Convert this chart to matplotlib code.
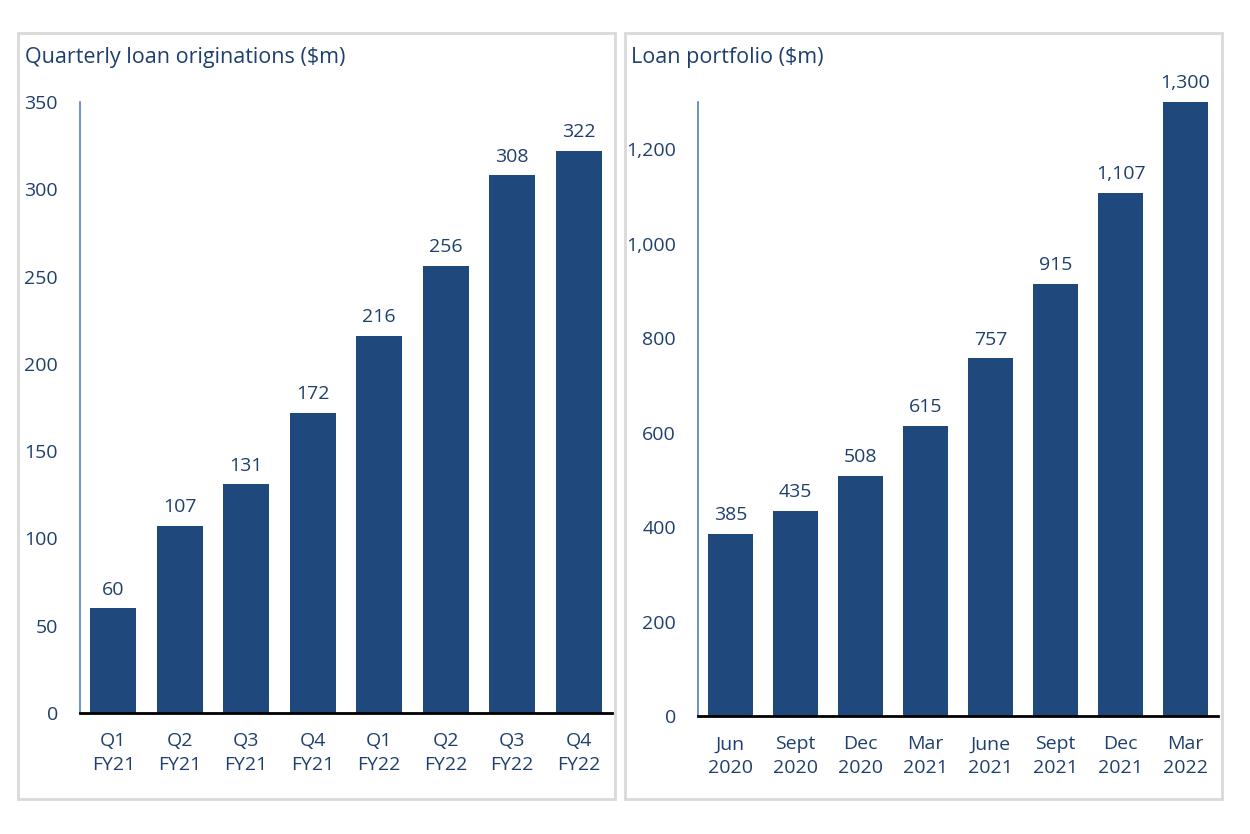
import matplotlib.pyplot as plt
from matplotlib.patches import Rectangle

## data
quarters = ['Q1\nFY21', 'Q2\nFY21', 'Q3\nFY21', 'Q4\nFY21',
            'Q1\nFY22', 'Q2\nFY22', 'Q3\nFY22', 'Q4\nFY22']
originations = [60, 107, 131, 172, 216, 256, 308, 322]

periods = ['Jun\n2020', 'Sept\n2020', 'Dec\n2020', 'Mar\n2021',
           'June\n2021', 'Sept\n2021', 'Dec\n2021', 'Mar\n2022']
portfolio = [385, 435, 508, 615, 757, 915, 1107, 1300]

navy = '#1f497d'
txt = '#1f3f6e'
plt.rcParams['font.family'] = ['Open Sans', 'DejaVu Sans']

W, H = 1250, 834
fig = plt.figure(figsize=(12.5, 8.34), dpi=100)

# panel frames (pixel coords -> figure fraction)
def frac_rect(x0, y0, x1, y1):
    return (x0 / W, 1 - y1 / H, (x1 - x0) / W, (y1 - y0) / H)

for x0, x1 in [(18, 615), (625, 1222)]:
    l, b, w, h = frac_rect(x0, 33, x1, 799)
    fig.patches.append(Rectangle((l, b), w, h, transform=fig.transFigure,
                                 fill=False, edgecolor='#d9d9d9', linewidth=2))

ax1 = fig.add_axes(frac_rect(80, 102, 612, 713))
ax2 = fig.add_axes(frac_rect(698, 102, 1218, 716))


def draw(ax, cats, vals, ymax, ticks, fmt):
    x = range(len(cats))
    bars = ax.bar(x, vals, width=0.69, color=navy, zorder=2)
    for rect, v in zip(bars, vals):
        ax.annotate(fmt(v), (rect.get_x() + rect.get_width() / 2, v),
                    xytext=(0, 7), textcoords='offset points',
                    ha='center', va='bottom', fontsize=14, color=txt)
    ax.set_xlim(-0.5, len(cats) - 0.5)
    ax.set_ylim(0, ymax)
    ax.set_yticks(ticks)
    ax.set_yticklabels([fmt(t) for t in ticks])
    ax.set_xticks(list(x))
    ax.set_xticklabels(cats, linespacing=1.38)
    ax.tick_params(axis='both', length=0, labelsize=14, labelcolor=txt)
    ax.tick_params(axis='y', pad=16)
    ax.tick_params(axis='x', pad=14)
    for s in ['top', 'right']:
        ax.spines[s].set_visible(False)
    ax.spines['left'].set_color('#4f81bd')
    ax.spines['left'].set_linewidth(1.2)
    ax.spines['bottom'].set_color('black')
    ax.spines['bottom'].set_linewidth(2)
    ax.spines['bottom'].set_zorder(3)


draw(ax1, quarters, originations, 350, range(0, 351, 50), lambda v: f'{v:d}')
draw(ax2, periods, portfolio, 1300, range(0, 1201, 200), lambda v: f'{v:,d}')

fig.text(25 / W, 1 - 58 / H, 'Quarterly loan originations ($m)',
         fontsize=15.5, color=txt, va='center', ha='left', fontweight='medium')
fig.text(631 / W, 1 - 58 / H, 'Loan portfolio ($m)',
         fontsize=15.5, color=txt, va='center', ha='left', fontweight='medium')

plt.savefig('out.png', dpi=100)
